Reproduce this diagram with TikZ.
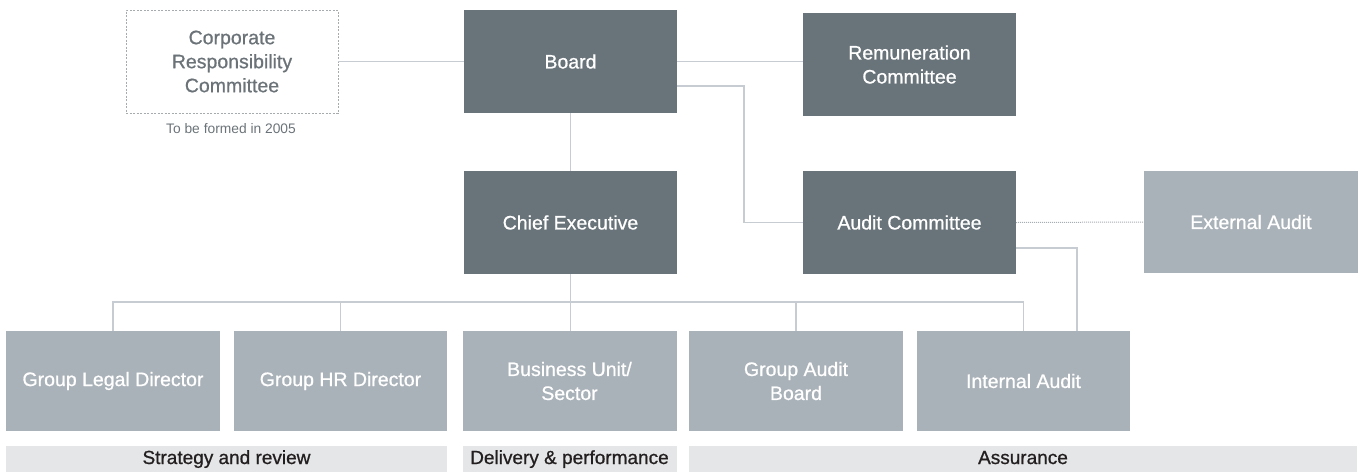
\documentclass[tikz,border=0pt]{standalone}
\usepackage{fontspec}
\setmainfont{Liberation Sans}
\newfontfamily\unitfont{Liberation Sans}[FakeBold=0.8]
\begin{document}
\definecolor{darkbox}{HTML}{69737A}
\definecolor{lightbox}{HTML}{AAB2B9}
\definecolor{bandfill}{HTML}{E5E6E7}
\definecolor{wire}{HTML}{C6CCD1}
\definecolor{greytext}{HTML}{6B7378}
\definecolor{inktext}{HTML}{231F20}
\begin{tikzpicture}[x=1pt,y=-1pt,
  boxbase/.style={rectangle, inner sep=0pt, align=center,
    font=\unitfont\fontsize{19.5}{24}\selectfont, text=white},
  darkunit/.style={boxbase, fill=darkbox, minimum width=213pt, minimum height=103pt},
  lightunit/.style={boxbase, fill=lightbox, minimum width=213pt, minimum height=100pt},
  planned/.style={boxbase, draw=greytext!60, line width=0.8pt,
    dash pattern=on 2pt off 1.5pt, text=greytext,
    minimum width=212pt, minimum height=103pt},
  band/.style={rectangle, inner sep=0pt, fill=bandfill, text=inktext,
    font=\unitfont\fontsize{19}{22}\selectfont, text height=14pt, text depth=4pt,
    minimum height=26pt},
  link/.style={draw=wire, line width=1.3pt},
  dottedlink/.style={draw=wire!85!black, line width=1pt, dash pattern=on 1pt off 1pt}
]
% page frame
\useasboundingbox (0,0) rectangle (1361,472);

% top tier
\node[planned] (corp) at (232,61.5) {Corporate\\Responsibility\\Committee};
\node[font=\fontsize{13.8}{16}\selectfont, text=greytext, anchor=base]
  (corpnote) at (231,133) {To be formed in 2005};
\node[darkunit] (board) at (570.5,61.5) {Board};
\node[darkunit] (remun) at (909.5,64.5) {Remuneration\\Committee};

% middle tier
\node[darkunit] (chief) at (570.5,222.5) {Chief Executive};
\node[darkunit] (audit) at (909.5,222.5) {Audit Committee};
\node[lightunit, minimum width=214pt, minimum height=102pt] (ext) at (1251,222) {External Audit};

% bottom tier
\node[lightunit, minimum width=214pt] (legal) at (113,381) {Group Legal Director};
\node[lightunit] (hr) at (340.5,381) {Group HR Director};
\node[lightunit, minimum width=214pt] (bu) at (569.5,381) {Business Unit/\\Sector};
\node[lightunit, minimum width=214pt] (gab) at (796,381) {Group Audit\\Board};
\node[lightunit] (ia) at (1023.5,381) {Internal Audit};

% function bands
\node[band, minimum width=441pt] (strategy) at (226.5,459) {Strategy and review};
\node[band, minimum width=214pt] (delivery) at (569.5,459) {Delivery \& performance};
\node[band, minimum width=668pt] (assurance) at (1023,459) {Assurance};

% wiring points
\coordinate (bus) at (570,302);
\coordinate (boardturn) at (744,86);
\coordinate (auditturn) at (1077,248);

% board relations
\draw[link] (corp.east) -- (board.west);
\draw[link] (board.east) -- (board.east -| remun.west);
\draw[link] (board.east |- boardturn) -- (boardturn) |- (audit.west);
\draw[link] (board.south -| chief.north) -- (chief.north);

% reporting lines below the chief executive
\draw[link] (chief.south) -- (chief.south |- bu.north);
\draw[link] (legal.north) -- (legal.north |- bus) -- (ia.north |- bus) -- (ia.north);
\draw[link] (hr.north) -- (hr.north |- bus);
\draw[link] (gab.north) -- (gab.north |- bus);

% audit committee to internal and external audit
\draw[link] (audit.east |- auditturn) -- (auditturn) -- (auditturn |- ia.north);
\draw[dottedlink] (audit.east) -- (ext.west);
\end{tikzpicture}
\end{document}
